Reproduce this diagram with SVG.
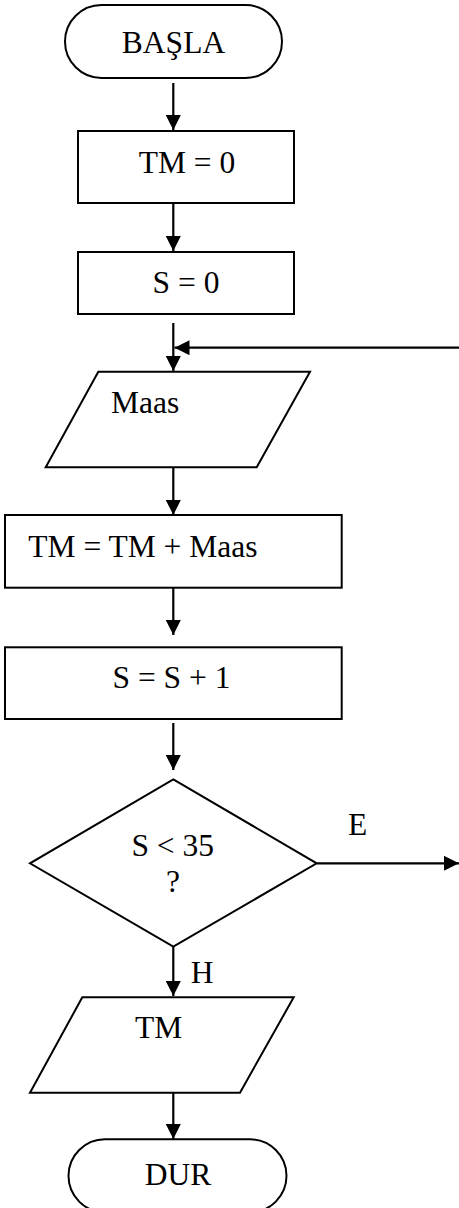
<svg xmlns="http://www.w3.org/2000/svg" width="459" height="1208" viewBox="0 0 459 1208">
<defs>
<style>
.s{fill:#fff;stroke:#000;stroke-width:2}
.c{stroke:#000;stroke-width:2.2;fill:none}
text{font-family:"Liberation Serif","Times New Roman",serif;font-size:31.5px;fill:#000}
.m{text-anchor:middle}
</style>
<marker id="ah" viewBox="0 0 15 15" refX="15" refY="7.5" markerWidth="15" markerHeight="15" markerUnits="userSpaceOnUse" orient="auto">
<path d="M0,0 L15,7.5 L0,15 z" fill="#000"/>
</marker>
</defs>
<rect width="459" height="1208" fill="#fff"/>
<g id="connectors">
<line class="c" x1="173.3" y1="83" x2="173.3" y2="130" marker-end="url(#ah)"/>
<line class="c" x1="173.3" y1="203" x2="173.3" y2="251" marker-end="url(#ah)"/>
<line class="c" x1="173.3" y1="323" x2="173.3" y2="371" marker-end="url(#ah)"/>
<line class="c" x1="459" y1="347.7" x2="174.5" y2="347.7" marker-end="url(#ah)"/>
<line class="c" x1="173.3" y1="467" x2="173.3" y2="515" marker-end="url(#ah)"/>
<line class="c" x1="173.3" y1="588" x2="173.3" y2="635" marker-end="url(#ah)"/>
<line class="c" x1="173.3" y1="723" x2="173.3" y2="770" marker-end="url(#ah)"/>
<line class="c" x1="316.7" y1="863.3" x2="459" y2="863.3" marker-end="url(#ah)"/>
<line class="c" x1="173.3" y1="947" x2="173.3" y2="996" marker-end="url(#ah)"/>
<line class="c" x1="173.3" y1="1091" x2="173.3" y2="1139" marker-end="url(#ah)"/>
<text x="348" y="835">E</text>
<text x="190.7" y="983">H</text>
</g>
<g id="basla">
<rect class="s" x="65" y="5" width="217" height="73" rx="36.5"/>
<text class="m" x="173.5" y="53">BAŞLA</text>
</g>
<g id="tm0">
<rect class="s" x="78" y="131" width="216" height="72"/>
<text class="m" x="187" y="173">TM = 0</text>
</g>
<g id="s0">
<rect class="s" x="78" y="252" width="216" height="62"/>
<text class="m" x="186" y="293">S = 0</text>
</g>
<g id="maas">
<polygon class="s" points="98.3,371.7 310,371.7 256.7,467.3 45.7,467.3"/>
<text x="111" y="413">Maas</text>
</g>
<g id="tmadd">
<rect class="s" x="5" y="515" width="336.7" height="72.7"/>
<text x="28.3" y="557">TM = TM + Maas</text>
</g>
<g id="sinc">
<rect class="s" x="5" y="647.3" width="336.7" height="71.7"/>
<text class="m" x="171.5" y="688">S = S + 1</text>
</g>
<g id="decision">
<polygon class="s" points="173.3,779.3 316.7,863.3 173.3,946.7 30,863.3"/>
<text class="m" x="172.7" y="856">S &lt; 35</text>
<text class="m" x="173" y="892">?</text>
</g>
<g id="tmout">
<polygon class="s" points="82.3,997.3 293.7,997.3 240,1092.7 30,1092.7"/>
<text x="135" y="1038">TM</text>
</g>
<g id="dur">
<rect class="s" x="68.5" y="1139.3" width="218" height="73" rx="36.5"/>
<text class="m" x="178" y="1185">DUR</text>
</g>
</svg>
